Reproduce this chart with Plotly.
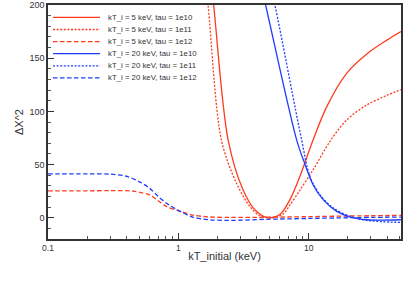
import plotly.graph_objects as go

# ---- data ----
names = ["kT_i = 5 keV, tau = 1e10", "kT_i = 5 keV, tau = 1e11", "kT_i = 5 keV, tau = 1e12",
         "kT_i = 20 keV, tau = 1e10", "kT_i = 20 keV, tau = 1e11", "kT_i = 20 keV, tau = 1e12"]

x_r10 = [1.6, 1.866, 2.41, 3.14, 3.86, 4.86, 6.01, 7.18, 8.57, 10.8, 13.7, 19.6, 27.9, 39.8, 51]
y_r10 = [280, 200, 73, 26, 7.5, 0, 3, 17, 39, 73, 104, 136, 154, 167, 175]

x_r11 = [1.45, 1.69, 2.14, 2.79, 3.53, 4.2, 5.0, 6.3, 7.18, 8.57, 10.8, 14.6, 19.6, 27.9, 39.8, 51]
y_r11 = [280, 200, 73, 32.5, 10.6, 1.9, 0, 3, 12, 26, 45, 72, 92, 106, 115, 120.5]

x_r12 = [0.1, 0.2, 0.3, 0.4, 0.45, 0.5, 0.6, 0.7, 0.81, 1.0, 1.29, 1.7, 2.5, 4, 6, 10, 20, 51]
y_r12 = [25.3, 25.3, 25.5, 25.5, 25, 24, 21.5, 16, 10.6, 6.6, 2.5, 0.8, 0.3, 0.3, 0.6, 1.0, 1.6, 2.2]

x_b10 = [4.0, 4.67, 8.09, 9.38, 10.8, 12.9, 16.4, 20.9, 27.9, 51]
y_b10 = [235, 200, 73, 50, 31, 17, 6, 0.6, -1.9, -1.9]

x_b11 = [4.7, 5.5, 8.83, 10.2, 12.2, 15.5, 20.9, 27.9, 51]
y_b11 = [235, 200, 73, 39, 21.6, 9, 1.2, -2.5, -4.4]

x_b12 = [0.1, 0.2, 0.3, 0.4, 0.5, 0.6, 0.7, 0.81, 1.0, 1.29, 1.74, 2.5, 4.7, 10, 20, 51]
y_b12 = [41.2, 41.2, 41, 39, 34, 27.8, 20, 13.7, 6.9, 0.6, -1.9, -2.5, -1.5, -0.7, 0, 0.6]

x_ticks = [0.1, 1, 10]
x_minor = [0.2, 0.3, 0.4, 0.5, 0.6, 0.7, 0.8, 0.9, 2, 3, 4, 5, 6, 7, 8, 9, 20, 30, 40, 50]
y_ticks = [0, 50, 100, 150, 200]

RED = "#ff3a1f"
BLUE = "#1e3cff"
colors = [RED, RED, RED, BLUE, BLUE, BLUE]
dashes = ["solid", "2px,1.6px", "4.5px,2.5px", "solid", "2px,1.6px", "4.5px,2.5px"]
xs = [x_r10, x_r11, x_r12, x_b10, x_b11, x_b12]
ys = [y_r10, y_r11, y_r12, y_b10, y_b11, y_b12]

fig = go.Figure()
for n, x, y, c, d in zip(names, xs, ys, colors, dashes):
    fig.add_trace(go.Scatter(x=x, y=y, mode="lines", name=n, showlegend=False,
                             line=dict(color=c, dash=d, width=1.3, shape="spline", smoothing=0.9)))

# manual compact legend (top-left inside the plot)
L, R, T, B = 48, 401, 5, 239
W, H = R - L, B - T
for i, (n, c, d) in enumerate(zip(names, colors, dashes)):
    ypx = 17.4 + 12.1 * i
    yp = 1 - (ypx - T) / H
    fig.add_shape(type="line", xref="paper", yref="paper",
                  x0=(53 - L) / W, x1=(100 - L) / W, y0=yp, y1=yp,
                  line=dict(color=c, dash=d, width=1.3))
    fig.add_annotation(xref="paper", yref="paper", x=(106 - L) / W, y=yp,
                       text=n, showarrow=False, xanchor="left", yanchor="middle",
                       font=dict(size=7.8, color="#333"))

fig.update_layout(
    width=407, height=287, autosize=False,
    margin=dict(l=L, r=407 - R, t=T, b=287 - B),
    paper_bgcolor="white", plot_bgcolor="white",
    font=dict(family="Liberation Sans, Arial, sans-serif", color="#333", size=9),
    xaxis=dict(type="log", range=[-1, 1.708], showgrid=False, zeroline=False, automargin=False,
               showline=True, linecolor="#333", linewidth=1.5, mirror=True,
               tickmode="array", tickvals=x_ticks, ticktext=["0.1", "1", "10"],
               ticks="inside", ticklen=6, tickcolor="#333", tickwidth=1,
               minor=dict(tickmode="array", tickvals=x_minor, ticks="inside",
                          ticklen=3, tickcolor="#555", showgrid=False),
               tickfont=dict(size=8.5),
               title=dict(text="kT_initial (keV)", font=dict(size=11), standoff=0)),
    yaxis=dict(range=[-20, 200], showgrid=False, zeroline=False, automargin=False,
               showline=True, linecolor="#333", linewidth=1.5, mirror=True,
               tickmode="array", tickvals=y_ticks,
               ticks="inside", ticklen=6, tickcolor="#333", tickwidth=1,
               minor=dict(dtick=10, ticks="inside", ticklen=3, tickcolor="#555", showgrid=False),
               tickfont=dict(size=9),
               title=dict(text="ΔX^2", font=dict(size=11), standoff=4)),
)

fig.write_html("out.html", config={"displayModeBar": False},
               post_script="document.body.style.margin='0px';")
